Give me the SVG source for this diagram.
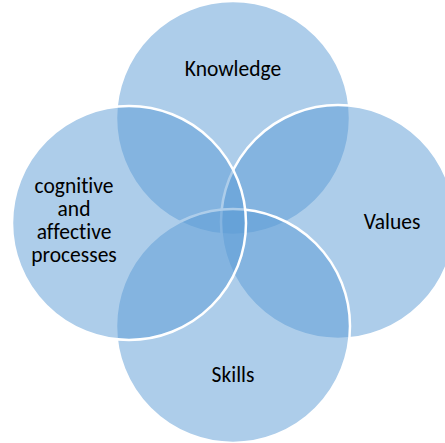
<svg xmlns="http://www.w3.org/2000/svg" width="445" height="443" viewBox="0 0 445 443">
<style>
.c{fill:#5B9BD5;fill-opacity:0.5;stroke:#ffffff;stroke-width:2.5}
.t{font-family:Carlito,Lato,"Open Sans",sans-serif;font-size:21.5px;fill:#000000;text-anchor:middle;font-variant-ligatures:none}
</style>
<rect width="445" height="443" fill="#ffffff"/>
<g id="knowledge"><circle class="c" cx="233" cy="118" r="117"/><text class="t" x="233" y="76">Knowledge</text></g>
<g id="values"><circle class="c" cx="338" cy="222" r="117"/><text class="t" x="392" y="229">Values</text></g>
<g id="skills"><circle class="c" cx="233" cy="326" r="117"/><text class="t" x="233" y="382">Skills</text></g>
<g id="cognitive"><circle class="c" cx="129" cy="223" r="117"/><text class="t" x="74" y="192.5">cognitive</text><text class="t" x="74" y="215.5">and</text><text class="t" x="74" y="238.5">affective</text><text class="t" x="74" y="261.5">processes</text></g>
<g id="connectors"/>
</svg>
